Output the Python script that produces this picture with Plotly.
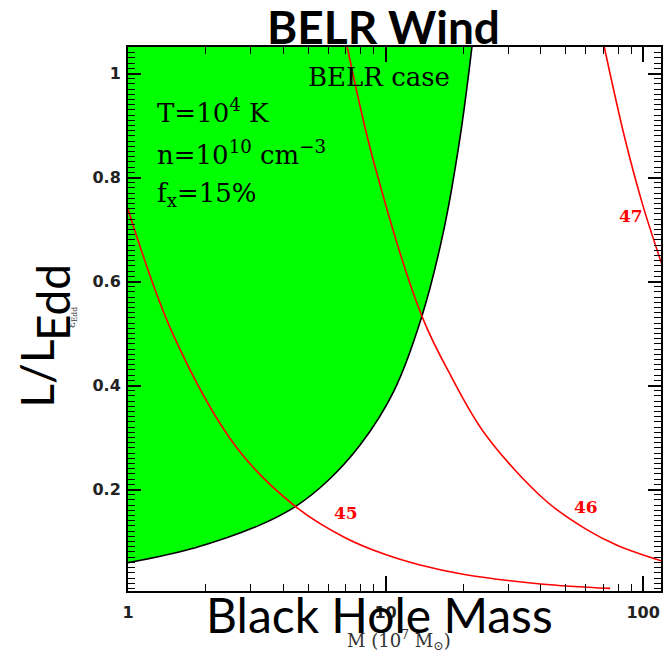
import plotly.graph_objects as go

# ---- data ----
# black boundary of the BELR-wind region (mass in 1e7 Msun, L/LEdd)
bnd_mass = [1.0, 1.811, 3.28, 4.48, 5.94, 7.99, 10.76, 13.84, 16.80, 19.47, 21.65]
bnd_ledd = [0.0595, 0.0878, 0.1326, 0.1678, 0.216, 0.2866, 0.389, 0.5335, 0.697, 0.877, 1.051]

# top edge used to close the green region
top_mass = [1.0, 21.65]
top_ledd = [1.051, 1.051]

# constant-luminosity curves (log L = 45, 46, 47)
l45_mass = [1.0, 1.5, 2.64, 4.48, 7.0, 10.0, 13.5, 20.0, 40.0, 74.5]
l45_ledd = [0.739, 0.497, 0.281, 0.167, 0.107, 0.075, 0.0555, 0.0372, 0.0186, 0.0100]

l46_mass = [7.1, 9.0, 13.84, 18.1, 24.5, 41.8, 60.0, 80.0, 119.5]
l46_ledd = [1.051, 0.83, 0.5335, 0.415, 0.305, 0.179, 0.124, 0.092, 0.062]

l47_mass = [70.7, 85.0, 100.0, 118.5]
l47_ledd = [1.051, 0.875, 0.745, 0.632]

x_tickvals = [1, 10, 100]
x_ticktext = ["1", "10", "100"]
x_minor = [2, 3, 4, 5, 6, 7, 8, 9, 20, 30, 40, 50, 60, 70, 80, 90]
y_tickvals = [0.2, 0.4, 0.6, 0.8, 1.0]
y_ticktext = ["0.2", "0.4", "0.6", "0.8", "1"]

GREEN = "#00ff00"
RED = "#ff0000"

fig = go.Figure()
fig.add_trace(go.Scatter(x=top_mass, y=top_ledd, mode="lines",
                         line=dict(width=0, color=GREEN), hoverinfo="skip", showlegend=False))
fig.add_trace(go.Scatter(x=bnd_mass, y=bnd_ledd, mode="lines", fill="tonexty",
                         fillcolor=GREEN, line=dict(color="black", width=1.6, shape="spline"),
                         showlegend=False))
for xs, ys in [(l45_mass, l45_ledd), (l46_mass, l46_ledd), (l47_mass, l47_ledd)]:
    fig.add_trace(go.Scatter(x=xs, y=ys, mode="lines",
                             line=dict(color=RED, width=1.6, shape="spline"),
                             showlegend=False))

serif = "DejaVu Serif"
ann = []
def A(text, x, y, size, family, color="black", xanchor="center", yanchor="middle", angle=0):
    ann.append(dict(text=text, x=x, y=y, xref="paper", yref="paper", showarrow=False,
                    font=dict(size=size, family=family, color=color),
                    xanchor=xanchor, yanchor=yanchor, textangle=angle))

A("BELR case", 0.471, 0.945, 26, serif)
A("T=10<sup>4</sup> K", 0.05, 0.882, 26, serif, xanchor="left")
A("n=10<sup>10</sup> cm<sup>−3</sup>", 0.05, 0.805, 26, serif, xanchor="left")
A("f<sub>x</sub>=15%", 0.05, 0.728, 26, serif, xanchor="left")
A("<b>45</b>", 0.409, 0.143, 17, serif, RED)
A("<b>46</b>", 0.860, 0.155, 17, serif, RED)
A("<b>47</b>", 0.944, 0.690, 17, serif, RED)
A("M (10<sup>7</sup> M<sub>⊙</sub>)", 0.508, -0.090, 18, serif, "#333")
A("ε<sub>Edd</sub>", -0.105, 0.502, 11, serif, "#444", angle=-90)
A("<b>BELR Wind</b>", 0.4785, 1.037, 46, "Lato")
A("Black Hole Mass", 0.471, -0.044, 48, "Lato")
A("L/L", -0.172, 0.400, 46, "Lato", angle=-90)
A("Edd", -0.142, 0.530, 46, "Lato", angle=-90)

tickfont = dict(family="DejaVu Sans", size=16, color="#222", weight="bold")

fig.update_layout(
    width=668, height=656,
    margin=dict(l=128, r=5, t=47, b=65),
    paper_bgcolor="white", plot_bgcolor="white",
    annotations=ann,
    xaxis=dict(type="log", range=[0, 2.0696], showgrid=False, zeroline=False,
               showline=True, linecolor="black", linewidth=2, mirror="allticks",
               ticks="inside", ticklen=15, tickwidth=1.5, tickcolor="black",
               tickmode="array", tickvals=x_tickvals, ticktext=x_ticktext,
               tickfont=tickfont, ticklabelstandoff=6,
               minor=dict(tickmode="array", tickvals=x_minor, ticks="inside",
                          ticklen=7, tickwidth=1.3, tickcolor="black", showgrid=False)),
    yaxis=dict(range=[0.005, 1.051], showgrid=False, zeroline=False,
               showline=True, linecolor="black", linewidth=2, mirror="allticks",
               ticks="inside", ticklen=13, tickwidth=1.5, tickcolor="black",
               tickmode="array", tickvals=y_tickvals, ticktext=y_ticktext,
               tickfont=tickfont, ticklabelstandoff=2,
               minor=dict(dtick=0.01, ticks="inside", ticklen=7, tickwidth=1.3,
                          tickcolor="black", showgrid=False)),
)

fig.write_html("out.html", config={"displayModeBar": False},
               post_script="document.body.style.margin='0';")
